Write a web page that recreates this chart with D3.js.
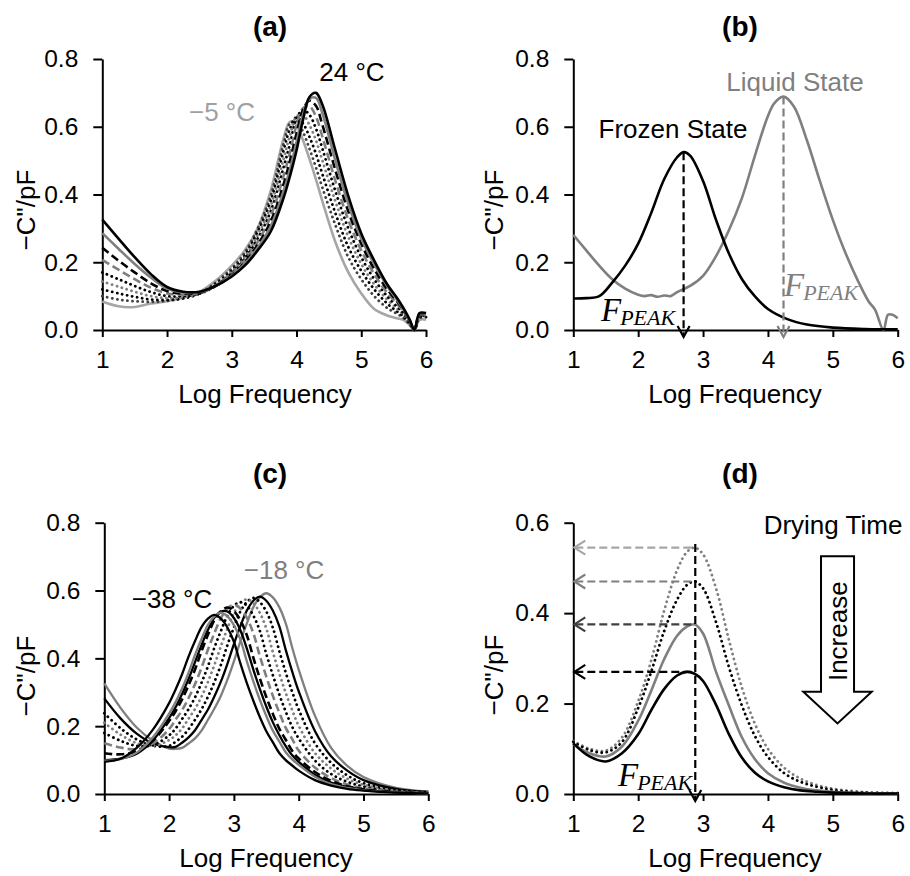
<!DOCTYPE html>
<html>
<head>
<meta charset="utf-8">
<script src="https://d3js.org/d3.v7.min.js"></script>
<style>
  html, body { margin: 0; padding: 0; background: #fff; }
  svg { display: block; }
</style>
</head>
<body>
<svg id="fig" width="910" height="876"></svg>
<script>
// ---------------- data ----------------
const freqTicks = [1, 2, 3, 4, 5, 6];

// (a) liquid state, 24 °C down to -5 °C
const freqA = [1.0, 1.25, 1.5, 1.75, 2.0, 2.25, 2.5, 2.75, 3.0, 3.2, 3.4, 3.6, 3.8, 3.9, 4.0, 4.1, 4.2, 4.3, 4.4, 4.6, 4.8, 5.0, 5.2, 5.4, 5.55, 5.65, 5.75, 5.82, 5.9, 6.0];
const a1 = [.326,.270,.215,.165,.127,.113,.113,.130, .158,.190,.235,.290,.390,.455,.530,.620,.688,.700,.665,.530,.395,.285,.205,.135, .095,.065,.030,0,.050,.050];
const a2 = [.286,.240,.195,.155,.122,.110,.112,.130, .160,.195,.243,.305,.410,.475,.555,.635,.682,.685,.640,.500,.372,.270,.195,.130, .090,.062,.028,0,.048,.048];
const a3 = [.243,.205,.170,.138,.115,.107,.110,.130, .162,.200,.252,.320,.430,.500,.580,.650,.677,.662,.605,.472,.350,.255,.180,.120, .085,.060,.026,0,.046,.046];
const a4 = [.207,.178,.150,.125,.108,.104,.109,.130, .165,.205,.260,.335,.455,.525,.605,.655,.660,.630,.570,.440,.325,.235,.165,.110, .078,.055,.024,0,.044,.044];
const a5 = [.170,.150,.130,.112,.100,.100,.107,.130, .168,.210,.270,.350,.480,.550,.625,.650,.635,.595,.535,.410,.300,.215,.150,.100, .070,.050,.022,0,.042,.042];
const a6 = [.143,.128,.113,.100,.094,.097,.107,.132, .172,.215,.280,.365,.505,.575,.630,.635,.605,.560,.500,.380,.275,.195,.135,.090, .063,.045,.020,0,.040,.040];
const a7 = [.120,.108,.098,.090,.089,.094,.107,.135, .176,.220,.290,.380,.530,.595,.628,.610,.570,.520,.460,.345,.245,.175,.120,.078, .055,.040,.018,0,.038,.038];
const a8 = [.100,.090,.085,.083,.086,.093,.108,.140, .182,.228,.300,.395,.550,.610,.618,.585,.535,.480,.420,.310,.215,.150,.100,.065, .048,.036,.016,0,.035,.035];
const a9 = [.084,.070,.068,.078,.085,.095,.112,.145, .190,.235,.300,.410,.565,.615,.605,.560,.505,.445,.380,.260,.170,.108,.062,.043, .035,.030,.014,0,.030,.030];

// (b) frozen vs liquid state
const freqFrozen = [1.0, 1.2, 1.4, 1.6, 1.8, 2.0, 2.2, 2.4, 2.6, 2.7, 2.8, 3.0, 3.2, 3.4, 3.6, 3.8, 4.0, 4.3, 4.6, 5.0, 5.5, 6.0];
const frozen = [0.093,0.094,0.100,0.140,0.190,0.255,0.345,0.445,0.510,0.525,0.515,0.440,0.325,0.225,0.150,0.099,0.062,0.032,0.016,0.007,0.003,0.002];
const freqLiquid = [1.0, 1.2, 1.4, 1.6, 1.8, 2.0, 2.1, 2.2, 2.3, 2.4, 2.5, 2.6, 2.8, 3.0, 3.2, 3.4, 3.6, 3.8, 4.0, 4.1, 4.24, 4.4, 4.6, 4.8, 5.0, 5.2, 5.4, 5.55, 5.65, 5.78, 5.85, 5.92, 6.0];
const liquid = [0.281,0.235,0.190,0.150,0.122,0.104,0.100,0.103,0.098,0.102,0.100,0.112,0.130,0.160,0.218,0.295,0.390,0.515,0.632,0.670,0.689,0.660,0.560,0.440,0.325,0.225,0.140,0.085,0.060,0.000,0.045,0.045,0.035];

// (c) frozen state, -38 °C up to -18 °C
const freqC = [1.0, 1.25, 1.5, 1.75, 2.0, 2.1, 2.2, 2.3, 2.4, 2.5, 2.6, 2.7, 2.8, 2.9, 3.0, 3.1, 3.2, 3.3, 3.4, 3.5, 3.6, 3.7, 3.8, 3.9, 4.0, 4.25, 4.5, 4.75, 5.0, 5.5, 6.0];
const c1  = [0.095,0.104,0.136,0.190,0.268,0.308,0.353,0.405,0.451,0.492,0.517,0.528,0.517,0.491,0.449,0.385,0.327,0.275,0.227,0.185,0.153,0.121,0.100,0.084,0.069,0.041,0.025,0.015,0.010,0.004,0.002];
const c2  = [0.098,0.103,0.122,0.167,0.237,0.271,0.311,0.358,0.410,0.457,0.499,0.524,0.535,0.524,0.498,0.455,0.391,0.332,0.278,0.230,0.187,0.155,0.123,0.102,0.086,0.051,0.029,0.018,0.011,0.005,0.002];
const c3  = [0.100,0.104,0.119,0.158,0.224,0.256,0.295,0.339,0.389,0.439,0.484,0.520,0.538,0.538,0.519,0.483,0.429,0.367,0.310,0.258,0.212,0.174,0.141,0.114,0.095,0.057,0.034,0.021,0.013,0.005,0.002];
const c4  = [0.120,0.117,0.126,0.157,0.215,0.244,0.279,0.321,0.367,0.421,0.470,0.513,0.539,0.550,0.539,0.512,0.468,0.402,0.341,0.286,0.237,0.193,0.160,0.127,0.105,0.065,0.039,0.023,0.014,0.006,0.003];
const c5  = [0.150,0.137,0.132,0.149,0.191,0.219,0.247,0.283,0.324,0.372,0.426,0.475,0.519,0.547,0.558,0.547,0.519,0.474,0.407,0.346,0.290,0.240,0.195,0.162,0.128,0.078,0.047,0.028,0.017,0.007,0.003];
const c6  = [0.180,0.157,0.142,0.144,0.173,0.193,0.221,0.250,0.285,0.328,0.377,0.432,0.481,0.526,0.555,0.566,0.555,0.526,0.481,0.413,0.351,0.294,0.243,0.198,0.164,0.099,0.059,0.036,0.022,0.008,0.003];
const c7  = [0.210,0.175,0.150,0.142,0.159,0.173,0.193,0.222,0.251,0.287,0.331,0.381,0.436,0.488,0.534,0.563,0.574,0.563,0.534,0.488,0.419,0.356,0.298,0.247,0.201,0.121,0.075,0.045,0.027,0.010,0.004];
const c8  = [0.238,0.194,0.161,0.142,0.142,0.154,0.169,0.191,0.219,0.250,0.287,0.331,0.381,0.439,0.491,0.538,0.566,0.578,0.566,0.538,0.491,0.422,0.358,0.301,0.249,0.150,0.092,0.055,0.032,0.012,0.005];
const c9  = [0.282,0.223,0.178,0.149,0.138,0.139,0.151,0.167,0.188,0.218,0.249,0.288,0.332,0.384,0.442,0.495,0.541,0.570,0.582,0.570,0.541,0.495,0.425,0.361,0.303,0.186,0.111,0.069,0.041,0.015,0.006];
const c10 = [0.326,0.254,0.196,0.157,0.134,0.133,0.136,0.149,0.164,0.187,0.219,0.252,0.290,0.337,0.391,0.450,0.503,0.551,0.580,0.592,0.580,0.551,0.503,0.432,0.367,0.231,0.136,0.083,0.050,0.018,0.007];

// (d) drying time series
const freqD = [1.0, 1.25, 1.5, 1.75, 2.0, 2.2, 2.4, 2.6, 2.75, 2.87, 3.0, 3.2, 3.4, 3.6, 3.8, 4.0, 4.25, 4.5, 4.75, 5.0, 5.5, 6.0];
const dry1 = [0.112,0.083,0.072,0.090,0.132,0.185,0.232,0.262,0.270,0.266,0.250,0.197,0.132,0.080,0.047,0.028,0.015,0.008,0.005,0.003,0.001,0.001];
const dry2 = [0.110,0.090,0.083,0.105,0.162,0.228,0.298,0.350,0.370,0.375,0.355,0.270,0.195,0.125,0.077,0.046,0.025,0.014,0.008,0.005,0.002,0.001];
const dry3 = [0.115,0.097,0.092,0.115,0.190,0.270,0.360,0.430,0.462,0.470,0.455,0.380,0.280,0.195,0.128,0.082,0.046,0.027,0.016,0.009,0.003,0.002];
const dry4 = [0.117,0.100,0.096,0.125,0.205,0.295,0.405,0.495,0.535,0.545,0.530,0.455,0.340,0.235,0.155,0.100,0.058,0.034,0.020,0.012,0.004,0.002];
const dPeakFreq = 2.88;

// ---------------- drawing ----------------
const FONT = "'Liberation Sans', Arial, Helvetica, sans-serif";
const SERIF = "'Liberation Serif', 'Times New Roman', serif";
const BLACK = "#000000", GRAY = "#7f7f7f", LIGHT = "#a6a6a6", DARK = "#404040";
const DASH = "8,4", DOT = "0.1,5";

const svg = d3.select("#fig");

function makePanel(cfg) {
  const x = d3.scaleLinear().domain([1, 6]).range([cfg.left, cfg.right]);
  const y = d3.scaleLinear().domain([0, cfg.yMax]).range([cfg.bottom, cfg.top]);
  const g = svg.append("g");

  const ax = g.append("g").attr("transform", `translate(0,${cfg.bottom})`)
    .call(d3.axisBottom(x).tickValues(freqTicks).tickFormat(d3.format("d"))
      .tickSize(7).tickPadding(13.5).tickSizeOuter(0));
  const ay = g.append("g").attr("transform", `translate(${cfg.left},0)`)
    .call(d3.axisLeft(y).tickValues(cfg.yTicks).tickFormat(d3.format(".1f"))
      .tickSize(9).tickPadding(15).tickSizeOuter(0));
  [ax, ay].forEach(a => {
    a.selectAll("path, line").attr("stroke", BLACK).attr("stroke-width", 2);
    a.selectAll("text").attr("font-size", 24.5).attr("font-family", FONT).attr("fill", BLACK);
  });

  g.append("text").attr("x", cfg.titleX).attr("y", cfg.titleY)
    .attr("text-anchor", "middle").attr("font-family", FONT)
    .attr("font-weight", "bold").attr("font-size", 28).text(cfg.title);
  g.append("text").attr("x", cfg.xLabX).attr("y", cfg.xLabY)
    .attr("text-anchor", "middle").attr("font-family", FONT)
    .attr("font-size", 26).text("Log Frequency");
  g.append("text")
    .attr("transform", `translate(${cfg.yLabX},${cfg.yLabY}) rotate(-90)`)
    .attr("text-anchor", "middle").attr("dy", "0.35em").attr("font-family", FONT)
    .attr("font-size", 26).text("\u2212C\"/pF");

  return { g, x, y };
}

function drawCurve(p, freq, values, style) {
  const line = d3.line()
    .x((d, i) => p.x(freq[i]))
    .y(d => p.y(d))
    .curve(d3.curveCatmullRom.alpha(0.5));
  p.g.append("path")
    .attr("d", line(values))
    .attr("fill", "none")
    .attr("stroke", style.color)
    .attr("stroke-width", style.width || 2.6)
    .attr("stroke-dasharray", style.dash || null)
    .attr("stroke-linecap", style.dash === DOT ? "round" : "butt")
    .attr("stroke-linejoin", "round");
}

function label(p, px, py, text, color, size) {
  p.g.append("text").attr("x", px).attr("y", py).attr("text-anchor", "middle")
    .attr("font-family", FONT).attr("font-size", size || 26).attr("fill", color).text(text);
}

function fPeak(p, px, py, color) {
  const t = p.g.append("text").attr("x", px).attr("y", py).attr("fill", color)
    .attr("font-family", SERIF).attr("font-style", "italic");
  t.append("tspan").attr("font-size", 33).text("F");
  t.append("tspan").attr("font-size", 22).attr("dy", 4).attr("dx", -1).text("PEAK");
}

function downArrow(p, fx, fy, color, dash) {
  const X = p.x(fx);
  p.g.append("line").attr("x1", X).attr("x2", X).attr("y1", p.y(fy)).attr("y2", p.y(0) + 6)
    .attr("stroke", color).attr("stroke-width", 2.2).attr("stroke-dasharray", dash);
  p.g.append("path").attr("d", `M${X - 6},${p.y(0) - 4} L${X},${p.y(0) + 7} L${X + 6},${p.y(0) - 4}`)
    .attr("fill", "none").attr("stroke", color).attr("stroke-width", 2.2);
}

// ----- panel (a)
const pa = makePanel({ left: 102.3, right: 426, top: 59, bottom: 330, yMax: 0.8,
  yTicks: [0, 0.2, 0.4, 0.6, 0.8], title: "(a)", titleX: 270, titleY: 36,
  xLabX: 265, xLabY: 403, yLabX: 26, yLabY: 210 });
const seriesA = [a9, a8, a7, a6, a5, a4, a3, a2, a1];
const stylesA = [
  { color: LIGHT }, { color: DARK, dash: DOT, width: 2.8 }, { color: BLACK, dash: DOT, width: 2.8 },
  { color: GRAY, dash: DOT, width: 2.8 }, { color: BLACK, dash: DOT, width: 2.8 }, { color: GRAY, dash: DASH },
  { color: BLACK, dash: DASH }, { color: GRAY }, { color: BLACK }
];
seriesA.forEach((s, i) => drawCurve(pa, freqA, s, stylesA[i]));
label(pa, 352, 81, "24 \u00B0C", BLACK);
label(pa, 222, 121, "\u22125 \u00B0C", "#a0a0a0");

// ----- panel (b)
const pb = makePanel({ left: 573.3, right: 897.7, top: 59, bottom: 330, yMax: 0.8,
  yTicks: [0, 0.2, 0.4, 0.6, 0.8], title: "(b)", titleX: 740, titleY: 36,
  xLabX: 735, xLabY: 403, yLabX: 494, yLabY: 210 });
drawCurve(pb, freqLiquid, liquid, { color: GRAY });
drawCurve(pb, freqFrozen, frozen, { color: BLACK });
downArrow(pb, freqFrozen[d3.maxIndex(frozen)], d3.max(frozen), BLACK, DASH);
downArrow(pb, freqLiquid[d3.maxIndex(liquid)], d3.max(liquid), GRAY, DASH);
label(pb, 673, 138, "Frozen State", BLACK);
label(pb, 795, 91, "Liquid State", GRAY);
fPeak(pb, 601, 321, BLACK);
fPeak(pb, 784, 296, GRAY);

// ----- panel (c)
const pc = makePanel({ left: 104.3, right: 428.3, top: 522.7, bottom: 794, yMax: 0.8,
  yTicks: [0, 0.2, 0.4, 0.6, 0.8], title: "(c)", titleX: 270, titleY: 483,
  xLabX: 266, xLabY: 867, yLabX: 26, yLabY: 676 });
const seriesC = [c10, c9, c8, c7, c6, c5, c4, c3, c2, c1];
const stylesC = [
  { color: GRAY, width: 2.3 }, { color: BLACK, width: 2.3 }, { color: BLACK, dash: DOT, width: 2.8 },
  { color: GRAY, dash: DOT, width: 2.8 }, { color: BLACK, dash: DOT, width: 2.8 }, { color: GRAY, dash: DASH },
  { color: BLACK, dash: DASH }, { color: BLACK, width: 2.3 }, { color: GRAY, width: 2.3 }, { color: BLACK, width: 2.3 }
];
seriesC.forEach((s, i) => drawCurve(pc, freqC, s, stylesC[i]));
label(pc, 172, 608, "\u221238 \u00B0C", BLACK);
label(pc, 284, 579, "\u221218 \u00B0C", GRAY);

// ----- panel (d)
const pd = makePanel({ left: 573.3, right: 897.7, top: 522.7, bottom: 794, yMax: 0.6,
  yTicks: [0, 0.2, 0.4, 0.6], title: "(d)", titleX: 740, titleY: 483,
  xLabX: 735, xLabY: 867, yLabX: 494, yLabY: 675 });
const seriesD = [dry4, dry3, dry2, dry1];
const stylesD = [
  { color: GRAY, dash: DOT, width: 2.8 }, { color: BLACK, dash: DOT, width: 2.8 },
  { color: GRAY }, { color: BLACK }
];
const arrowColors = [LIGHT, GRAY, DARK, BLACK];
seriesD.forEach((s, i) => drawCurve(pd, freqD, s, stylesD[i]));
// peak read-off arrows toward the y axis
seriesD.forEach((s, i) => {
  const Y = pd.y(d3.max(s));
  const X0 = pd.x(1), X1 = pd.x(dPeakFreq);
  pd.g.append("line").attr("x1", X0 + 2).attr("x2", X1).attr("y1", Y).attr("y2", Y)
    .attr("stroke", arrowColors[i]).attr("stroke-width", 2.2).attr("stroke-dasharray", DASH);
  pd.g.append("path").attr("d", `M${X0 + 12},${Y - 7} L${X0 + 1},${Y} L${X0 + 12},${Y + 7}`)
    .attr("fill", "none").attr("stroke", arrowColors[i]).attr("stroke-width", 2.2);
});
downArrow(pd, dPeakFreq, d3.max(dry4) + 0.008, BLACK, DASH);
fPeak(pd, 618, 786, BLACK);
label(pd, 833, 534, "Drying Time", BLACK);

// block arrow: drying time increase
const blk = [[4.818, 0.526], [5.327, 0.526], [5.327, 0.226], [5.6, 0.226], [5.072, 0.156],
             [4.545, 0.226], [4.818, 0.226]];
pd.g.append("path")
  .attr("d", d3.line().x(d => pd.x(d[0])).y(d => pd.y(d[1]))(blk) + "Z")
  .attr("fill", "#fff").attr("stroke", BLACK).attr("stroke-width", 2);
pd.g.append("text")
  .attr("transform", `translate(${pd.x(5.072)},${pd.y(0.36)}) rotate(-90)`)
  .attr("text-anchor", "middle").attr("dy", "0.35em").attr("font-family", FONT)
  .attr("font-size", 26).text("Increase");
</script>
</body>
</html>
